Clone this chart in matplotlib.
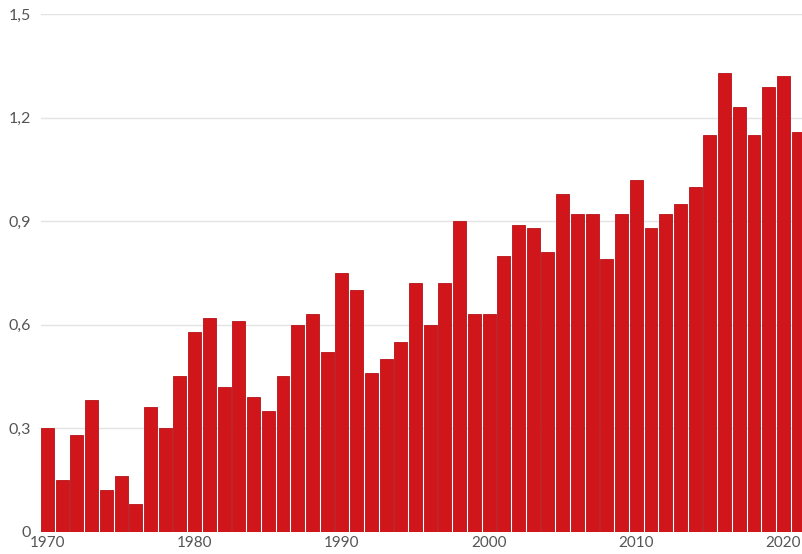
import matplotlib
matplotlib.use("Agg")
import matplotlib.pyplot as plt
from matplotlib.ticker import FuncFormatter

years = list(range(1970, 2022))
values = [0.30, 0.15, 0.28, 0.38, 0.12, 0.16, 0.08, 0.36, 0.30, 0.45,
          0.58, 0.62, 0.42, 0.61, 0.39, 0.35, 0.45, 0.60, 0.63, 0.52,
          0.75, 0.70, 0.46, 0.50, 0.55, 0.72, 0.60, 0.72, 0.90, 0.63,
          0.63, 0.80, 0.89, 0.88, 0.81, 0.98, 0.92, 0.92, 0.79, 0.92,
          1.02, 0.88, 0.92, 0.95, 1.00, 1.15, 1.33, 1.23, 1.15, 1.29,
          1.32, 1.16]
x_ticks = [1970, 1980, 1990, 2000, 2010, 2020]
y_ticks = [0, 0.3, 0.6, 0.9, 1.2, 1.5]

plt.rcParams['font.family'] = ['Lato', 'DejaVu Sans']

W, H = 802, 554
fig = plt.figure(figsize=(W / 100, H / 100), dpi=100)
fig.patch.set_facecolor('white')
left, right = 41, 802
bottom, top = 531.5, 14.3
ax = fig.add_axes([left / W, (H - bottom) / H, (right - left) / W, (bottom - top) / H])

ax.bar(years, values, width=0.88, color='#d0161b', edgecolor='#b51217',
       linewidth=0.6, zorder=3)

ax.set_xlim(1969.56, 2021.26)
ax.set_ylim(0, 1.5)
ax.set_yticks(y_ticks)
ax.set_xticks(x_ticks)
ax.yaxis.set_major_formatter(FuncFormatter(
    lambda v, p: '0' if v == 0 else f'{v:.1f}'.replace('.', ',')))
ax.grid(axis='y', color='#e4e4e4', linewidth=1.0, zorder=0)
for s in ax.spines.values():
    s.set_visible(False)
ax.tick_params(axis='both', length=0, labelcolor='#555555')
ax.tick_params(axis='y', pad=7, labelsize=11.5)
ax.tick_params(axis='x', pad=3, labelsize=11)
for lbl in ax.get_yticklabels():
    lbl.set_ha('right')

fig.savefig('out.png', dpi=100, facecolor='white')
